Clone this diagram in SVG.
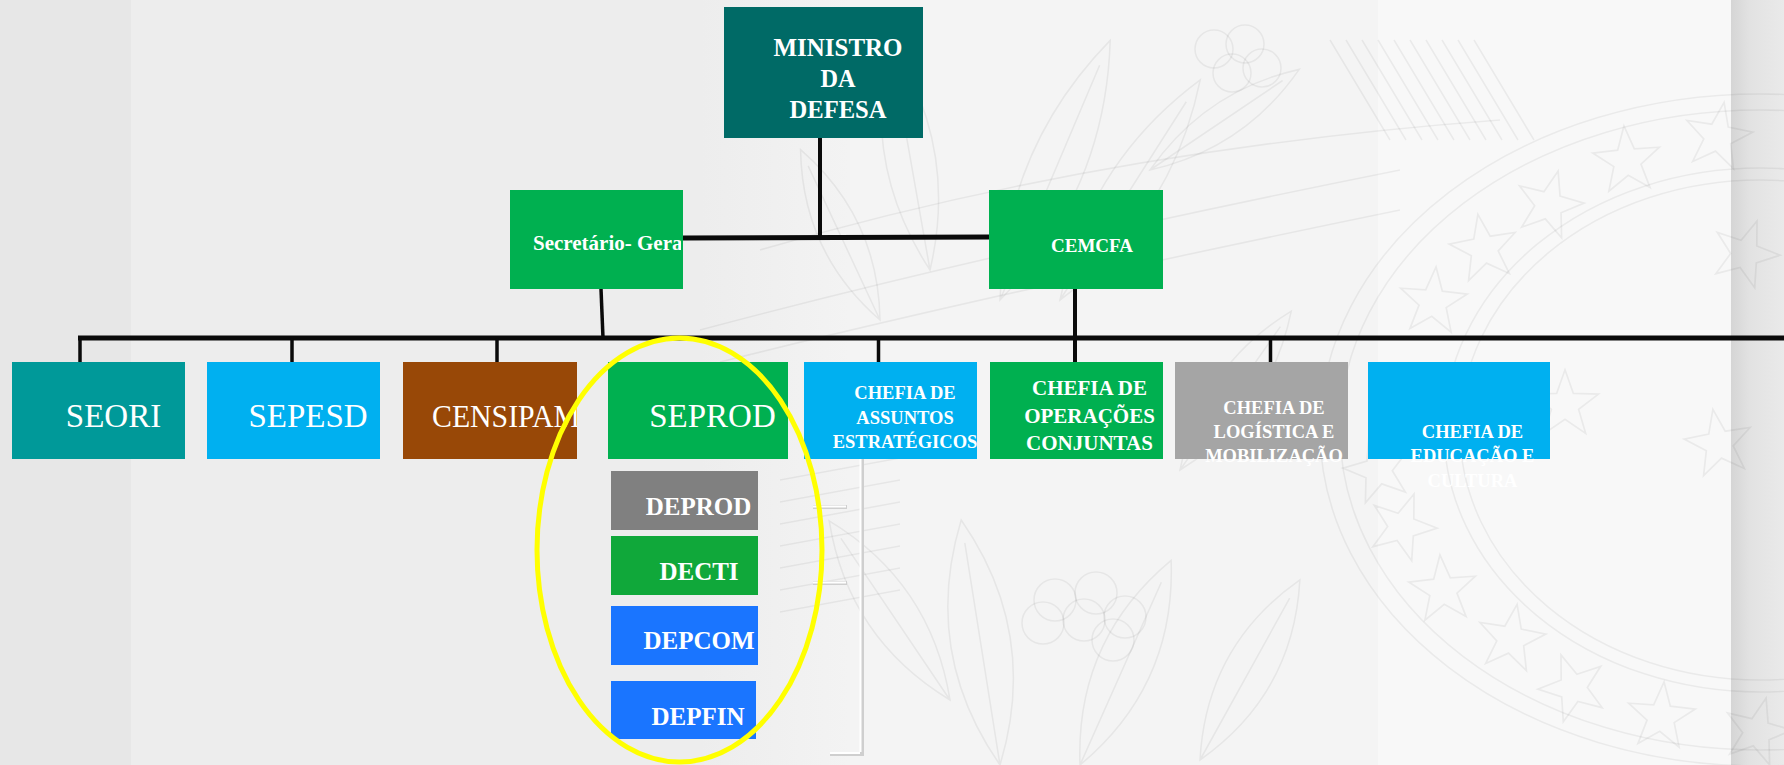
<svg xmlns="http://www.w3.org/2000/svg" width="1784" height="765" viewBox="0 0 1784 765">
<defs>
<style>
.t{fill:#fff;font-family:"Liberation Serif","Times New Roman",serif}
.b{font-weight:bold}
.m{text-anchor:middle}
.art{fill:none;stroke:#000;stroke-opacity:0.055;stroke-width:1.6}
.conn line{stroke:#0a0a0a}
.conn line.ghost{stroke:#cfcfcf;stroke-width:4}
.conn line.ghostw{stroke:#ffffff;stroke-width:2}
</style>
<linearGradient id="shadow" x1="0" x2="1" y1="0" y2="0">
<stop offset="0" stop-color="#D5D5D5"/><stop offset="0.35" stop-color="#E2E2E2"/><stop offset="1" stop-color="#EAEAEA"/>
</linearGradient>
<linearGradient id="mid" x1="0" x2="1" y1="0" y2="0">
<stop offset="0" stop-color="#EDEDED"/><stop offset="1" stop-color="#F3F3F3"/>
</linearGradient>
<path id="star" d="M0,-32 L7.6,-10.5 L30.4,-9.9 L12.4,4 L18.8,25.9 L0,13 L-18.8,25.9 L-12.4,4 L-30.4,-9.9 L-7.6,-10.5Z"/>
<clipPath id="cSec"><rect x="510" y="190" width="171" height="99"/></clipPath>
<clipPath id="cCen"><rect x="403" y="362" width="174" height="97"/></clipPath>
</defs>

<!-- background -->
<rect x="0" y="0" width="1784" height="765" fill="#EDEDED"/>
<rect x="0" y="0" width="131" height="765" fill="#E7E7E7"/>
<rect x="700" y="0" width="150" height="765" fill="url(#mid)"/>
<rect x="850" y="0" width="528" height="765" fill="#F4F4F4"/>
<rect x="1378" y="0" width="353" height="765" fill="#F8F8F8"/>
<rect x="1731" y="0" width="53" height="765" fill="url(#shadow)"/>

<!-- faint seal artwork -->
<g class="art">
<path d="M0,0 Q141,-55 282,0 Q141,55 0,0Z M0,0 L255,0" transform="translate(1000,300) rotate(-67)"/>
<path d="M0,0 Q130,-50 261,0 Q130,50 0,0Z M0,0 L235,0" transform="translate(1060,300) rotate(-57.5)"/>
<path d="M0,0 Q116,-50 233,0 Q116,50 0,0Z M0,0 L210,0" transform="translate(930,270) rotate(-100)"/>
<path d="M0,0 Q90,-35 180,0 Q90,35 0,0Z M0,0 L160,0" transform="translate(1150,170) rotate(-34)"/>
<path d="M0,0 Q124,-60 248,0 Q124,60 0,0Z M0,0 L225,0" transform="translate(1000,765) rotate(-99)"/>
<path d="M0,0 Q112,-55 224,0 Q112,55 0,0Z M0,0 L200,0" transform="translate(1080,765) rotate(-66)"/>
<path d="M0,0 Q108,-50 216,0 Q108,50 0,0Z M0,0 L195,0" transform="translate(950,700) rotate(-124)"/>
<path d="M0,0 Q103,-50 206,0 Q103,50 0,0Z M0,0 L185,0" transform="translate(1200,760) rotate(-61)"/>
<path d="M0,0 Q94,-42 188,0 Q94,42 0,0Z M0,0 L170,0" transform="translate(880,320) rotate(-115)"/>
<path d="M0,0 Q97,-42 194,0 Q97,42 0,0Z M0,0 L175,0" transform="translate(1180,470) rotate(-55)"/>
<circle cx="1214" cy="49" r="19"/><circle cx="1245" cy="44" r="19"/><circle cx="1232" cy="73" r="19"/><circle cx="1262" cy="68" r="19"/>
<circle cx="1055" cy="600" r="21"/><circle cx="1096" cy="593" r="21"/><circle cx="1043" cy="623" r="21"/><circle cx="1084" cy="620" r="21"/><circle cx="1125" cy="617" r="21"/><circle cx="1113" cy="640" r="21"/>
<path d="M700,330 Q1000,250 1400,170 M720,362 Q1000,292 1400,210 M760,250 Q1100,150 1500,120"/>
<path d="M1330,40 L1390,140 M1346,40 L1406,140 M1362,40 L1422,140 M1378,40 L1438,140 M1394,40 L1454,140 M1410,40 L1470,140 M1426,40 L1486,140 M1442,40 L1502,140 M1458,40 L1518,140 M1474,40 L1534,140"/>
<path d="M780,480 L900,458 M780,502 L900,480 M780,524 L900,502 M780,546 L900,524 M780,568 L900,546 M780,590 L900,568 M780,612 L900,590"/>
<ellipse cx="1760" cy="430" rx="420" ry="320"/>
<ellipse cx="1760" cy="430" rx="440" ry="336"/>
<ellipse cx="1760" cy="430" rx="300" ry="250"/>
<ellipse cx="1760" cy="430" rx="316" ry="262"/>
<use href="#star" transform="translate(1718,137) rotate(10) scale(1.1)"/>
<use href="#star" transform="translate(1627,161) rotate(-5) scale(1.1)"/>
<use href="#star" transform="translate(1549,205) rotate(15) scale(1.1)"/>
<use href="#star" transform="translate(1484,249) rotate(-10) scale(1.1)"/>
<use href="#star" transform="translate(1433,302) rotate(5) scale(1.1)"/>
<use href="#star" transform="translate(1378,470) rotate(-15) scale(1.1)"/>
<use href="#star" transform="translate(1402,527) rotate(20) scale(1.1)"/>
<use href="#star" transform="translate(1443,590) rotate(-5) scale(1.1)"/>
<use href="#star" transform="translate(1511,639) rotate(10) scale(1.1)"/>
<use href="#star" transform="translate(1573,688) rotate(-20) scale(1.1)"/>
<use href="#star" transform="translate(1661,717) rotate(5) scale(1.1)"/>
<use href="#star" transform="translate(1757,732) rotate(15) scale(1.1)"/>
<use href="#star" transform="translate(1565,405) rotate(0) scale(1.1)"/>
<use href="#star" transform="translate(1719,444) rotate(-10) scale(1.1)"/>
<use href="#star" transform="translate(1745,254) rotate(20) scale(1.1)"/>
</g>

<!-- connectors -->
<g id="connectors" class="conn">
<line x1="820" y1="138" x2="820" y2="239" stroke-width="4"/>
<line x1="683" y1="238" x2="989" y2="237" stroke-width="5"/>
<line x1="601" y1="289" x2="603" y2="338" stroke-width="3.5"/>
<line x1="1075" y1="289" x2="1075" y2="338" stroke-width="4"/>
<line x1="78" y1="338" x2="1784" y2="338" stroke-width="5"/>
<line x1="80" y1="338" x2="80" y2="362" stroke-width="3.5"/>
<line x1="292" y1="338" x2="292" y2="362" stroke-width="3.5"/>
<line x1="497" y1="338" x2="497" y2="362" stroke-width="3.5"/>
<line x1="878.5" y1="338" x2="878.5" y2="362" stroke-width="3.5"/>
<line x1="1075" y1="338" x2="1075" y2="362" stroke-width="4"/>
<line x1="1270.5" y1="338" x2="1270.5" y2="362" stroke-width="3.5"/>
<line class="ghost" x1="862" y1="459" x2="862" y2="755"/>
<line class="ghostw" x1="860.5" y1="459" x2="860.5" y2="752"/>
<line class="ghost" x1="813" y1="507" x2="847" y2="507"/>
<line class="ghostw" x1="813" y1="506.5" x2="846" y2="506.5"/>
<line class="ghost" x1="813" y1="583" x2="847" y2="583"/>
<line class="ghostw" x1="813" y1="582.5" x2="846" y2="582.5"/>
<line class="ghost" x1="830" y1="754" x2="864" y2="754"/>
<line class="ghostw" x1="830" y1="753" x2="860" y2="753"/>
</g>

<!-- nodes -->
<g id="ministro">
<rect x="724" y="7" width="199" height="131" fill="#006A66"/>
<text class="t b m" x="838" y="56" font-size="26" textLength="129" lengthAdjust="spacingAndGlyphs">MINISTRO</text>
<text class="t b m" x="838" y="87" font-size="26" textLength="35" lengthAdjust="spacingAndGlyphs">DA</text>
<text class="t b m" x="838" y="118" font-size="26" textLength="97" lengthAdjust="spacingAndGlyphs">DEFESA</text>
</g>
<g id="secretario">
<rect x="510" y="190" width="173" height="99" fill="#00B050"/>
<text class="t b" x="533" y="250" font-size="21" clip-path="url(#cSec)">Secretário- Geral</text>
</g>
<g id="cemcfa">
<rect x="989" y="190" width="174" height="99" fill="#00B050"/>
<text class="t b m" x="1092" y="252" font-size="19">CEMCFA</text>
</g>
<g id="seori">
<rect x="12" y="362" width="173" height="97" fill="#009999"/>
<text class="t m" x="113.5" y="427" font-size="33">SEORI</text>
</g>
<g id="sepesd">
<rect x="207" y="362" width="173" height="97" fill="#00B0F0"/>
<text class="t m" x="308" y="427" font-size="33">SEPESD</text>
</g>
<g id="censipam">
<rect x="403" y="362" width="174" height="97" fill="#984807"/>
<text class="t" x="432" y="427" font-size="32" textLength="148" lengthAdjust="spacingAndGlyphs" clip-path="url(#cCen)">CENSIPAM</text>
</g>
<g id="seprod">
<rect x="608" y="362" width="180" height="97" fill="#00B050"/>
<text class="t m" x="712.5" y="427" font-size="33">SEPROD</text>
</g>
<g id="assuntos">
<rect x="804" y="362" width="173" height="97" fill="#00B0F0"/>
<text class="t b m" x="905" y="399" font-size="18.5">CHEFIA DE</text>
<text class="t b m" x="905" y="423.5" font-size="18.5">ASSUNTOS</text>
<text class="t b m" x="905" y="448" font-size="18.5">ESTRATÉGICOS</text>
</g>
<g id="operacoes">
<rect x="990" y="362" width="173" height="97" fill="#00B050"/>
<text class="t b m" x="1089.5" y="395" font-size="21">CHEFIA DE</text>
<text class="t b m" x="1089.5" y="422.5" font-size="21">OPERAÇÕES</text>
<text class="t b m" x="1089.5" y="449.5" font-size="21">CONJUNTAS</text>
</g>
<g id="logistica">
<rect x="1175" y="362" width="173" height="97" fill="#A5A5A5"/>
<text class="t b m" x="1274" y="413.5" font-size="18.5">CHEFIA DE</text>
<text class="t b m" x="1274" y="438" font-size="18.5">LOGÍSTICA E</text>
<text class="t b m" x="1274" y="462" font-size="18.5">MOBILIZAÇÃO</text>
</g>
<g id="educacao">
<rect x="1368" y="362" width="182" height="97" fill="#00B0F0"/>
<text class="t b m" x="1472.5" y="438" font-size="18.5">CHEFIA DE</text>
<text class="t b m" x="1472.5" y="462" font-size="18.5">EDUCAÇÃO E</text>
<text class="t b m" x="1472.5" y="487" font-size="18.5">CULTURA</text>
</g>
<g id="deprod">
<rect x="611" y="471" width="147" height="59" fill="#808080"/>
<text class="t b m" x="698.5" y="515" font-size="25">DEPROD</text>
</g>
<g id="decti">
<rect x="611" y="536" width="147" height="59" fill="#10A83A"/>
<text class="t b m" x="699" y="580" font-size="25">DECTI</text>
</g>
<g id="depcom">
<rect x="611" y="606" width="147" height="59" fill="#1A75FF"/>
<text class="t b m" x="699" y="649" font-size="25">DEPCOM</text>
</g>
<g id="depfin">
<rect x="611" y="681" width="145" height="58" fill="#1A75FF"/>
<text class="t b m" x="698" y="725" font-size="25">DEPFIN</text>
</g>

<!-- highlight -->
<ellipse cx="679.5" cy="550" rx="142.5" ry="212" fill="none" stroke="#FFFF00" stroke-width="5"/>
</svg>
